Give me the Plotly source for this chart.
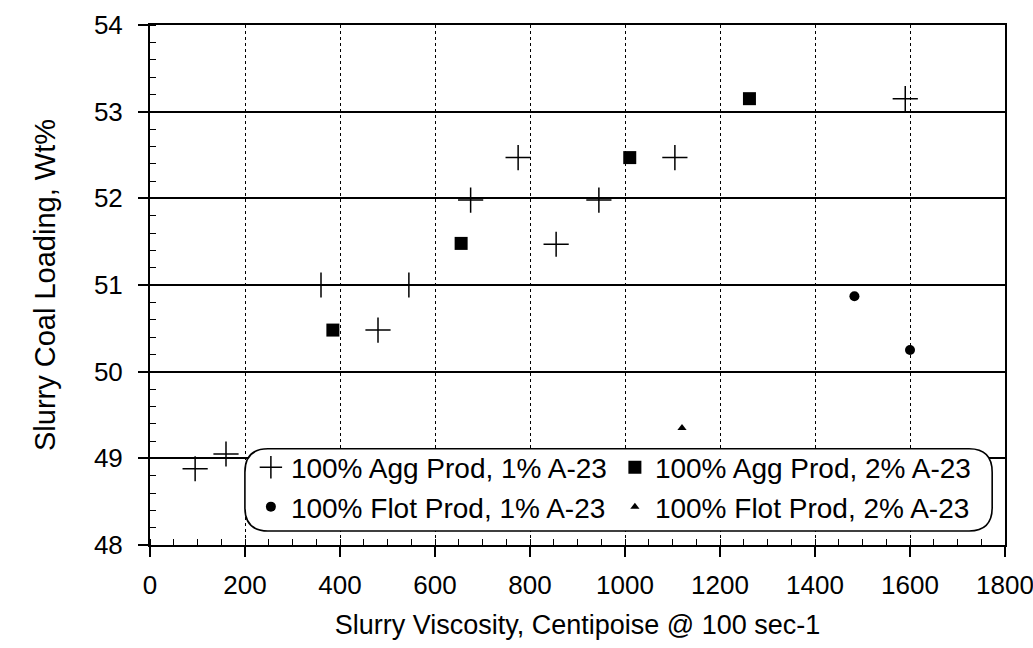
import plotly.graph_objects as go

# Data
agg1_x = [95, 160, 360, 480, 545, 675, 775, 855, 945, 1105, 1590]
agg1_y = [48.88, 49.05, 51.0, 50.48, 51.0, 51.98, 52.47, 51.47, 51.98, 52.47, 53.15]
agg2_x = [385, 655, 1010, 1262]
agg2_y = [50.48, 51.48, 52.47, 53.15]
flot1_x = [1483, 1600]
flot1_y = [50.87, 50.25]
flot2_x = [1120]
flot2_y = [49.35]

names = ["100% Agg Prod, 1% A-23", "100% Agg Prod, 2% A-23",
         "100% Flot Prod, 1% A-23", "100% Flot Prod, 2% A-23"]

FONT = "Liberation Sans, Arial, sans-serif"

fig = go.Figure()
fig.add_trace(go.Scatter(x=agg1_x, y=agg1_y, mode="markers", name=names[0],
                         marker=dict(symbol="cross-thin", size=18, color="black",
                                     line=dict(width=1.5, color="black"))))
fig.add_trace(go.Scatter(x=agg2_x, y=agg2_y, mode="markers", name=names[1],
                         marker=dict(symbol="square", size=13, color="black")))
fig.add_trace(go.Scatter(x=flot1_x, y=flot1_y, mode="markers", name=names[2],
                         marker=dict(symbol="circle", size=10, color="black")))
fig.add_trace(go.Scatter(x=flot2_x, y=flot2_y, mode="markers", name=names[3],
                         marker=dict(symbol="triangle-up", size=8, color="black")))

# rounded legend frame (paper coords of the plot area)
x0, x1, y0, y1 = 0.111, 0.985, 0.027, 0.185
rx, ry = 0.027, 0.045
path = (f"M {x0+rx},{y1} L {x1-rx},{y1} Q {x1},{y1} {x1},{y1-ry} "
        f"L {x1},{y0+ry} Q {x1},{y0} {x1-rx},{y0} L {x0+rx},{y0} "
        f"Q {x0},{y0} {x0},{y0+ry} L {x0},{y1-ry} Q {x0},{y1} {x0+rx},{y1} Z")
fig.add_shape(type="path", path=path, xref="paper", yref="paper",
              line=dict(color="black", width=1.6), fillcolor="white", layer="above")

fig.update_layout(
    width=1033, height=648,
    margin=dict(l=150, r=28, t=25, b=103),
    paper_bgcolor="white", plot_bgcolor="white",
    font=dict(family=FONT, color="black", size=26),
    showlegend=True,
    legend=dict(orientation="h", x=0.118, y=0.197, xanchor="left", yanchor="top",
                bgcolor="rgba(0,0,0,0)", borderwidth=0,
                font=dict(size=28, family=FONT, color="black"),
                entrywidth=319, entrywidthmode="pixels", itemwidth=30),
)
fig.update_xaxes(range=[0, 1800], dtick=200, tick0=0, automargin=False,
                 ticklabeloverflow="allow",
                 showgrid=True, gridcolor="black", gridwidth=1, griddash="dot",
                 showline=True, linecolor="black", linewidth=2, mirror=True,
                 ticks="outside", ticklen=10, tickwidth=1.5, tickcolor="black",
                 ticklabelstandoff=6,
                 minor=dict(dtick=50, ticks="inside", ticklen=6, tickwidth=1.2,
                            tickcolor="black", showgrid=False),
                 tickfont=dict(size=26, family=FONT), zeroline=False,
                 title=dict(text="Slurry Viscosity, Centipoise @ 100 sec-1",
                            font=dict(size=27, family=FONT), standoff=16))
fig.update_yaxes(range=[48, 54], dtick=1, tick0=48, automargin=False,
                 ticklabeloverflow="allow",
                 showgrid=True, gridcolor="black", gridwidth=1.5,
                 showline=True, linecolor="black", linewidth=2, mirror=True,
                 ticks="outside", ticklen=10, tickwidth=1.5, tickcolor="black",
                 ticklabelstandoff=10,
                 minor=dict(dtick=0.2, ticks="inside", ticklen=6, tickwidth=1.2,
                            tickcolor="black", showgrid=False),
                 tickfont=dict(size=26, family=FONT), zeroline=False,
                 title=dict(text="Slurry Coal Loading, Wt%",
                            font=dict(size=29, family=FONT), standoff=30))

fig.write_html("out.html")
